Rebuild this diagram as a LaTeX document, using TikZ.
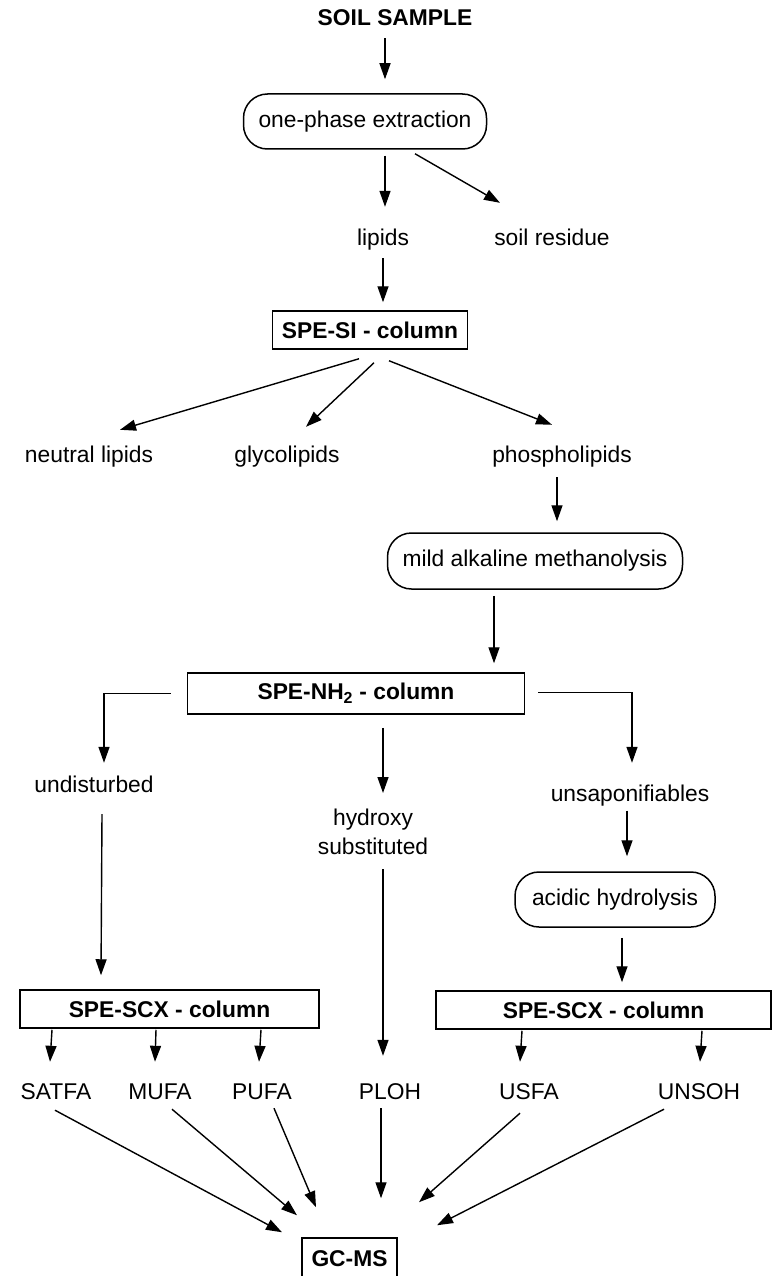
\documentclass[tikz,border=0pt]{standalone}
\usepackage{fontspec}
\setmainfont{Liberation Sans}
\usetikzlibrary{arrows.meta, calc}

\tikzset{
    arr/.style={-{Triangle[length=16pt, width=11pt]}, line width=1.4pt},
    lbl/.style={inner sep=0pt, text height=16pt, text depth=5pt},
    colbox/.style={draw, line width=1.5pt, minimum height=38pt, inner sep=0pt,
        font=\fontsize{22.8}{28}\selectfont\bfseries},
    procbox/.style={draw, line width=1.5pt, rounded corners=24pt, minimum height=55pt, inner sep=0pt},
}

\begin{document}
\begin{tikzpicture}[x=1pt, y=-1pt, font=\fontsize{22.8}{29}\selectfont]
    \useasboundingbox (0,0) rectangle (775,1276);

    % extraction
    \node[lbl, font=\fontsize{22.8}{28}\selectfont\bfseries] (soil) at (395,20.5) {SOIL SAMPLE};
    \node[procbox, minimum width=243pt] (extract) at (365,121.5) {one-phase extraction};
    \node[lbl] (lipids) at (383,240) {lipids};
    \node[lbl] (residue) at (552,240) {soil residue};

    % silica column
    \node[colbox, minimum width=195pt] (spesi) at (370,330) {SPE-SI - column};
    \node[lbl] (neutral) at (89,457) {neutral lipids};
    \node[lbl] (glyco) at (287,457) {glycolipids};
    \node[lbl] (phospho) at (562,457) {phospholipids};
    \node[procbox, minimum width=295pt, minimum height=56pt] (methanol) at (535,561) {mild alkaline methanolysis};

    % aminopropyl column
    \node[colbox, minimum width=337pt, minimum height=41pt] (spenh) at (356,693.5) {SPE-NH\textsubscript{2} - column};
    \node[lbl] (undist) at (94,787) {undisturbed};
    \node[align=center, inner sep=0pt, anchor=north] (hydroxy) at (373,809) {hydroxy\\substituted};
    \node[lbl] (unsapon) at (630,796) {unsaponifiables};
    \node[procbox, minimum width=200pt] (acidic) at (615,899.5) {acidic hydrolysis};

    % cation exchange columns
    \node[colbox, minimum width=299pt] (scxleft) at (169.5,1009) {SPE-SCX - column};
    \node[colbox, minimum width=335pt] (scxright) at (603.5,1010) {SPE-SCX - column};
    \node[lbl] (satfa) at (56,1093.5) {SATFA};
    \node[lbl] (mufa) at (160,1093.5) {MUFA};
    \node[lbl] (pufa) at (262,1093.5) {PUFA};
    \node[lbl] (ploh) at (390,1093.5) {PLOH};
    \node[lbl] (usfa) at (529,1093.5) {USFA};
    \node[lbl] (unsoh) at (699,1093.5) {UNSOH};
    \node[colbox, minimum width=95pt, minimum height=42pt] (gcms) at (349.5,1259) {GC-MS};

    % sample to lipids
    \draw[arr] ($(soil.south)+(-10,7)$) -- ($(extract.north)+(20,-14)$);
    \draw[arr] ($(extract.south)+(20,6)$) -- ($(lipids.north)+(2,-22.5)$);
    \draw[arr] ($(extract.south)+(50,4)$) -- ($(residue.north)+(-52,-26.5)$);
    \draw[arr] ($(lipids.south)+(0,7.5)$) -- ($(spesi.north)+(13,-8)$);

    % lipid classes
    \draw[arr] ($(spesi.south)+(-11,9)$) -- ($(neutral.north)+(31,-16.5)$);
    \draw[arr] ($(spesi.south)+(4,13)$) -- ($(glyco.north)+(19,-19.5)$);
    \draw[arr] ($(spesi.south)+(19,11)$) -- ($(phospho.north)+(-10,-21.5)$);
    \draw[arr] ($(phospho.south)+(-5,9.5)$) -- ($(methanol.north)+(22,-11)$);
    \draw[arr] ($(methanol.south)+(-41,6)$) -- ($(spenh.north)+(138,-9)$);

    % NH2 fractions
    \draw[arr] ($(spenh.west)+(-16,0)$) -| ($(undist.north)+(10,-13.5)$);
    \draw[arr] ($(spenh.east)+(13,-1)$) -| ($(unsapon.north)+(2,-22.5)$);
    \draw[arr] ($(spenh.south)+(27,13)$) -- ($(hydroxy.north)+(10,-16)$);
    \draw[arr] ($(undist.south)+(8,16.5)$) -- ($(scxleft.north)+(-68.5,-14)$);
    \draw[arr] ($(hydroxy.south)+(10,14)$) -- ($(ploh.north)+(-7,-27)$);
    \draw[arr] ($(unsapon.south)+(-3,4)$) -- ($(acidic.north)+(12,-15)$);
    \draw[arr] ($(acidic.south)+(7,10)$) -- ($(scxright.north)+(18.5,-8)$);

    % SCX fractions
    \draw[arr] ($(scxleft.south)+(-117.5,1)$) -- ($(satfa.north)+(-6,-21)$);
    \draw[arr] ($(scxleft.south)+(-13.5,1)$) -- ($(mufa.north)+(-5,-21)$);
    \draw[arr] ($(scxleft.south)+(91.5,1)$) -- ($(pufa.north)+(-3,-21)$);
    \draw[arr] ($(scxright.south)+(-81.5,1)$) -- ($(usfa.north)+(-9,-21)$);
    \draw[arr] ($(scxright.south)+(98.5,1)$) -- ($(unsoh.north)+(1,-21)$);

    % everything to GC-MS
    \draw[arr] ($(satfa.south)+(-1,6)$) -- ($(gcms.north)+(-67.5,-5)$);
    \draw[arr] ($(mufa.south)+(12,5)$) -- ($(gcms.north)+(-52.5,-22)$);
    \draw[arr] ($(pufa.south)+(12,4)$) -- ($(gcms.north)+(-33.5,-30)$);
    \draw[arr] ($(ploh.south)+(-9,4)$) -- ($(gcms.north)+(31.5,-39)$);
    \draw[arr] ($(usfa.south)+(-9,9)$) -- ($(gcms.north)+(69.5,-35)$);
    \draw[arr] ($(unsoh.south)+(-35,5)$) -- ($(gcms.north)+(87.5,-12)$);
\end{tikzpicture}
\end{document}
